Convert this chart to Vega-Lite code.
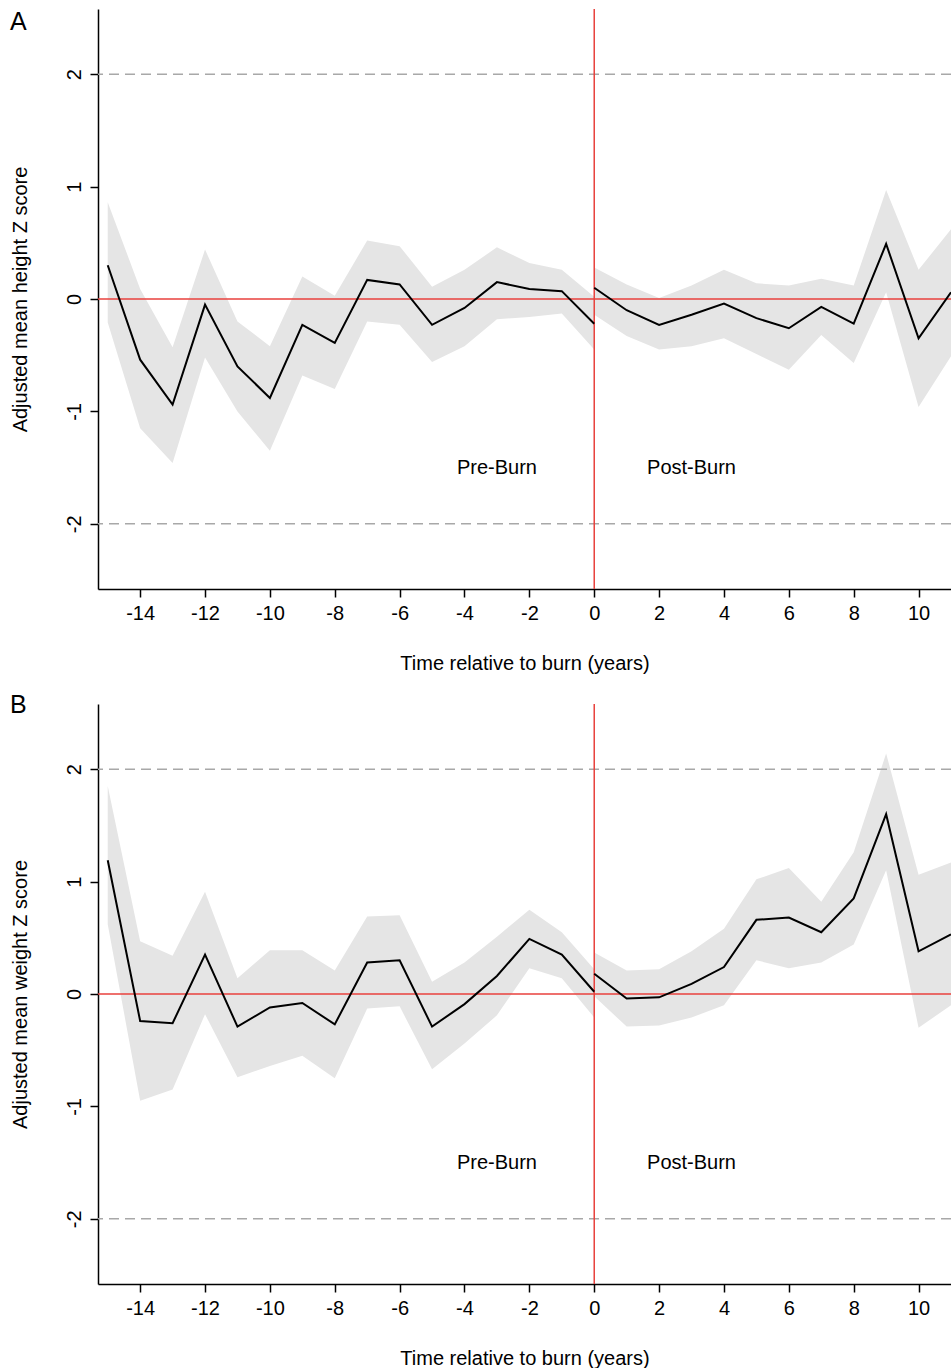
{
  "$schema": "https://vega.github.io/schema/vega-lite/v6.json",
  "padding": {"left": 10, "right": 0, "top": 8, "bottom": 0},
  "background": "white",
  "config": {
    "font": "Liberation Sans",
    "view": {"stroke": null},
    "axis": {
      "grid": false,
      "domainColor": "black",
      "domainWidth": 1.5,
      "tickColor": "black",
      "tickWidth": 1.5,
      "tickSize": 8,
      "labelFont": "Liberation Sans",
      "labelFontSize": 20,
      "labelColor": "black",
      "labelExpr": "'' + datum.value",
      "titleFont": "Liberation Sans",
      "titleFontSize": 20,
      "titleFontWeight": "normal",
      "titleColor": "black"
    },
    "axisX": {"labelPadding": 6, "titlePadding": 30},
    "axisY": {"labelAngle": -90, "labelPadding": 6, "titlePadding": 34},
    "title": {"font": "Liberation Sans", "fontSize": 25, "fontWeight": "normal", "anchor": "start", "frame": "bounds", "color": "black"}
  },
  "datasets": {
    "height": [
      {"t": -15, "period": "pre", "est": 0.30, "lo": -0.21, "hi": 0.86},
      {"t": -14, "period": "pre", "est": -0.54, "lo": -1.15, "hi": 0.09},
      {"t": -13, "period": "pre", "est": -0.94, "lo": -1.46, "hi": -0.43},
      {"t": -12, "period": "pre", "est": -0.05, "lo": -0.52, "hi": 0.44},
      {"t": -11, "period": "pre", "est": -0.60, "lo": -1.00, "hi": -0.20},
      {"t": -10, "period": "pre", "est": -0.88, "lo": -1.35, "hi": -0.42},
      {"t": -9, "period": "pre", "est": -0.23, "lo": -0.68, "hi": 0.20},
      {"t": -8, "period": "pre", "est": -0.39, "lo": -0.80, "hi": 0.03},
      {"t": -7, "period": "pre", "est": 0.17, "lo": -0.20, "hi": 0.52},
      {"t": -6, "period": "pre", "est": 0.13, "lo": -0.23, "hi": 0.47},
      {"t": -5, "period": "pre", "est": -0.23, "lo": -0.56, "hi": 0.11},
      {"t": -4, "period": "pre", "est": -0.08, "lo": -0.42, "hi": 0.26},
      {"t": -3, "period": "pre", "est": 0.15, "lo": -0.18, "hi": 0.46},
      {"t": -2, "period": "pre", "est": 0.09, "lo": -0.16, "hi": 0.32},
      {"t": -1, "period": "pre", "est": 0.07, "lo": -0.13, "hi": 0.26},
      {"t": 0, "period": "pre", "est": -0.22, "lo": -0.45, "hi": 0.02},
      {"t": 0, "period": "post", "est": 0.10, "lo": -0.14, "hi": 0.28},
      {"t": 1, "period": "post", "est": -0.10, "lo": -0.33, "hi": 0.13},
      {"t": 2, "period": "post", "est": -0.23, "lo": -0.45, "hi": 0.01},
      {"t": 3, "period": "post", "est": -0.14, "lo": -0.42, "hi": 0.12},
      {"t": 4, "period": "post", "est": -0.04, "lo": -0.35, "hi": 0.26},
      {"t": 5, "period": "post", "est": -0.17, "lo": -0.49, "hi": 0.14},
      {"t": 6, "period": "post", "est": -0.26, "lo": -0.63, "hi": 0.12},
      {"t": 7, "period": "post", "est": -0.07, "lo": -0.32, "hi": 0.18},
      {"t": 8, "period": "post", "est": -0.22, "lo": -0.57, "hi": 0.12},
      {"t": 9, "period": "post", "est": 0.49, "lo": 0.06, "hi": 0.97},
      {"t": 10, "period": "post", "est": -0.35, "lo": -0.96, "hi": 0.26},
      {"t": 11, "period": "post", "est": 0.06, "lo": -0.51, "hi": 0.62}
    ],
    "weight": [
      {"t": -15, "period": "pre", "est": 1.19, "lo": 0.62, "hi": 1.85},
      {"t": -14, "period": "pre", "est": -0.24, "lo": -0.95, "hi": 0.47},
      {"t": -13, "period": "pre", "est": -0.26, "lo": -0.85, "hi": 0.34},
      {"t": -12, "period": "pre", "est": 0.35, "lo": -0.18, "hi": 0.91},
      {"t": -11, "period": "pre", "est": -0.29, "lo": -0.74, "hi": 0.14},
      {"t": -10, "period": "pre", "est": -0.12, "lo": -0.64, "hi": 0.39},
      {"t": -9, "period": "pre", "est": -0.08, "lo": -0.55, "hi": 0.39},
      {"t": -8, "period": "pre", "est": -0.27, "lo": -0.75, "hi": 0.21},
      {"t": -7, "period": "pre", "est": 0.28, "lo": -0.13, "hi": 0.69},
      {"t": -6, "period": "pre", "est": 0.30, "lo": -0.11, "hi": 0.70},
      {"t": -5, "period": "pre", "est": -0.29, "lo": -0.67, "hi": 0.11},
      {"t": -4, "period": "pre", "est": -0.09, "lo": -0.44, "hi": 0.28},
      {"t": -3, "period": "pre", "est": 0.16, "lo": -0.19, "hi": 0.51},
      {"t": -2, "period": "pre", "est": 0.49, "lo": 0.23, "hi": 0.75},
      {"t": -1, "period": "pre", "est": 0.35, "lo": 0.14, "hi": 0.55},
      {"t": 0, "period": "pre", "est": 0.02, "lo": -0.21, "hi": 0.22},
      {"t": 0, "period": "post", "est": 0.18, "lo": -0.02, "hi": 0.37},
      {"t": 1, "period": "post", "est": -0.04, "lo": -0.29, "hi": 0.21},
      {"t": 2, "period": "post", "est": -0.03, "lo": -0.28, "hi": 0.22},
      {"t": 3, "period": "post", "est": 0.09, "lo": -0.21, "hi": 0.38},
      {"t": 4, "period": "post", "est": 0.24, "lo": -0.10, "hi": 0.58},
      {"t": 5, "period": "post", "est": 0.66, "lo": 0.30, "hi": 1.02},
      {"t": 6, "period": "post", "est": 0.68, "lo": 0.23, "hi": 1.12},
      {"t": 7, "period": "post", "est": 0.55, "lo": 0.28, "hi": 0.82},
      {"t": 8, "period": "post", "est": 0.85, "lo": 0.44, "hi": 1.26},
      {"t": 9, "period": "post", "est": 1.60, "lo": 1.10, "hi": 2.14},
      {"t": 10, "period": "post", "est": 0.38, "lo": -0.30, "hi": 1.06},
      {"t": 11, "period": "post", "est": 0.53, "lo": -0.10, "hi": 1.17}
    ],
    "refs": [{"v": 2}, {"v": -2}],
    "one": [{}]
  },
  "spacing": 20,
  "vconcat": [
    {
      "title": {"text": "A", "dy": 31},
      "width": 853,
      "height": 580,
      "layer": [
        {
          "data": {"name": "height"},
          "mark": {"type": "area", "color": "#e5e5e5", "opacity": 1},
          "encoding": {
            "x": {"field": "t", "type": "quantitative", "scale": {"domain": [-15.3, 11], "nice": false, "zero": false}, "axis": {"values": [-14, -12, -10, -8, -6, -4, -2, 0, 2, 4, 6, 8, 10], "title": "Time relative to burn (years)"}},
            "y": {"field": "lo", "type": "quantitative", "scale": {"domain": [-2.58, 2.58], "nice": false, "zero": false}, "axis": {"values": [-2, -1, 0, 1, 2], "title": "Adjusted mean height Z score"}},
            "y2": {"field": "hi"},
            "detail": {"field": "period"}
          }
        },
        {
          "data": {"name": "refs"},
          "mark": {"type": "rule", "color": "#a8a8a8", "strokeWidth": 1.5, "strokeDash": [10, 6]},
          "encoding": {"y": {"field": "v", "type": "quantitative"}}
        },
        {
          "data": {"name": "one"},
          "mark": {"type": "rule", "color": "#e8413c", "strokeWidth": 1.5},
          "encoding": {"y": {"datum": 0}}
        },
        {
          "data": {"name": "one"},
          "mark": {"type": "rule", "color": "#e8413c", "strokeWidth": 1.5},
          "encoding": {"x": {"datum": 0}}
        },
        {
          "data": {"name": "height"},
          "mark": {"type": "line", "color": "black", "strokeWidth": 2},
          "encoding": {
            "x": {"field": "t", "type": "quantitative"},
            "y": {"field": "est", "type": "quantitative"},
            "detail": {"field": "period"}
          }
        },
        {
          "data": {"name": "one"},
          "mark": {"type": "text", "text": "Pre-Burn", "fontSize": 20, "font": "Liberation Sans", "color": "black"},
          "encoding": {"x": {"datum": -3}, "y": {"datum": -1.5}}
        },
        {
          "data": {"name": "one"},
          "mark": {"type": "text", "text": "Post-Burn", "fontSize": 20, "font": "Liberation Sans", "color": "black"},
          "encoding": {"x": {"datum": 3}, "y": {"datum": -1.5}}
        }
      ]
    },
    {
      "title": {"text": "B", "dy": 19},
      "width": 853,
      "height": 580,
      "layer": [
        {
          "data": {"name": "weight"},
          "mark": {"type": "area", "color": "#e5e5e5", "opacity": 1},
          "encoding": {
            "x": {"field": "t", "type": "quantitative", "scale": {"domain": [-15.3, 11], "nice": false, "zero": false}, "axis": {"values": [-14, -12, -10, -8, -6, -4, -2, 0, 2, 4, 6, 8, 10], "title": "Time relative to burn (years)"}},
            "y": {"field": "lo", "type": "quantitative", "scale": {"domain": [-2.58, 2.58], "nice": false, "zero": false}, "axis": {"values": [-2, -1, 0, 1, 2], "title": "Adjusted mean weight Z score"}},
            "y2": {"field": "hi"},
            "detail": {"field": "period"}
          }
        },
        {
          "data": {"name": "refs"},
          "mark": {"type": "rule", "color": "#a8a8a8", "strokeWidth": 1.5, "strokeDash": [10, 6]},
          "encoding": {"y": {"field": "v", "type": "quantitative"}}
        },
        {
          "data": {"name": "one"},
          "mark": {"type": "rule", "color": "#e8413c", "strokeWidth": 1.5},
          "encoding": {"y": {"datum": 0}}
        },
        {
          "data": {"name": "one"},
          "mark": {"type": "rule", "color": "#e8413c", "strokeWidth": 1.5},
          "encoding": {"x": {"datum": 0}}
        },
        {
          "data": {"name": "weight"},
          "mark": {"type": "line", "color": "black", "strokeWidth": 2},
          "encoding": {
            "x": {"field": "t", "type": "quantitative"},
            "y": {"field": "est", "type": "quantitative"},
            "detail": {"field": "period"}
          }
        },
        {
          "data": {"name": "one"},
          "mark": {"type": "text", "text": "Pre-Burn", "fontSize": 20, "font": "Liberation Sans", "color": "black"},
          "encoding": {"x": {"datum": -3}, "y": {"datum": -1.5}}
        },
        {
          "data": {"name": "one"},
          "mark": {"type": "text", "text": "Post-Burn", "fontSize": 20, "font": "Liberation Sans", "color": "black"},
          "encoding": {"x": {"datum": 3}, "y": {"datum": -1.5}}
        }
      ]
    }
  ]
}
